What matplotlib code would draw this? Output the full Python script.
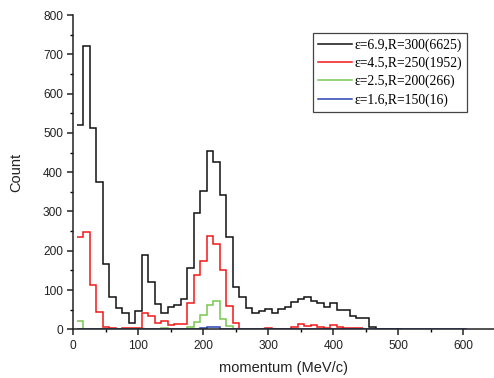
import numpy as np
import matplotlib
matplotlib.use("Agg")
import matplotlib.pyplot as plt
from matplotlib.ticker import MultipleLocator

plt.rcParams['font.family'] = ['Liberation Sans', 'DejaVu Sans']

# bin centres (MeV/c), bin width 10
centers = list(range(10, 610, 10))

black = [521, 720, 513, 375, 167, 83, 55, 42, 17, 47,
         189, 120, 65, 42, 56, 61, 76, 156, 296, 352,
         453, 426, 343, 236, 108, 83, 53, 42, 47, 52,
         41, 52, 57, 69, 78, 83, 73, 68, 57, 68,
         49, 49, 34, 30, 29, 5, 2, 2, 2, 1]
red = [235, 247, 112, 45, 5, 4, 2, 3, 4, 4,
       42, 34, 15, 20, 10, 14, 14, 68, 137, 174,
       237, 218, 150, 59, 17, 2, 2, 2, 2, 4,
       2, 2, 2, 5, 13, 9, 12, 5, 4, 12,
       5, 4, 4, 4]
green = [21, 1, 0, 0, 0, 0, 0, 0, 0, 0,
         0, 2, 2, 3, 1, 1, 2, 7, 18, 37,
         62, 71, 26, 9, 1, 0, 0, 1, 1]
blue = [0] * 19 + [3, 6, 7]

labels = ["ε=6.9,R=300(6625)", "ε=4.5,R=250(1952)",
          "ε=2.5,R=200(266)", "ε=1.6,R=150(16)"]
colors = ["#111111", "#f01818", "#76c84e", "#2a44b0"]

edges = np.array(centers + [centers[-1] + 10]) - 5


def pad(v):
    return np.array(v + [0] * (len(centers) - len(v)), dtype=float)


fig = plt.figure(figsize=(4.94, 3.78), dpi=100)
ax = fig.add_axes([0.1484, 0.1288, 0.8516, 0.8315])

# blue runs along zero across the full range, the others stop where their data stops
for vals, col, lab in zip([black, red, green, blue], colors, labels):
    v = pad(vals) if col == colors[3] else np.array(vals, dtype=float)
    ax.stairs(v, edges[:len(v) + 1], color=col, linewidth=1.1, label=lab, baseline=None)

ax.set_xlim(0, 647)
ax.set_ylim(0, 800)
ax.xaxis.set_major_locator(MultipleLocator(100))
ax.xaxis.set_minor_locator(MultipleLocator(50))
ax.yaxis.set_major_locator(MultipleLocator(100))
ax.yaxis.set_minor_locator(MultipleLocator(50))
ax.tick_params(which='major', direction='out', length=4.5, width=1.1, labelsize=8.6,
               colors='#222222', pad=3)
ax.tick_params(which='minor', direction='out', length=2.5, width=1.0)
for s in ['top', 'right']:
    ax.spines[s].set_visible(False)
for s in ['left', 'bottom']:
    ax.spines[s].set_linewidth(1.1)
    ax.spines[s].set_color('#222222')

ax.set_xlabel("momentum (MeV/c)", fontsize=10.5, color='#222222', labelpad=7)
ax.set_ylabel("Count", fontsize=10.5, color='#222222', labelpad=14)

leg = ax.legend(loc='upper left', bbox_to_anchor=(0.569, 0.944), borderaxespad=0,
                fancybox=False, edgecolor='#444444', framealpha=1,
                prop={'family': ['Liberation Serif', 'DejaVu Serif'], 'size': 9.8},
                handlelength=2.5, handletextpad=0.15, labelspacing=0.36,
                borderpad=0.4)
leg.get_frame().set_linewidth(0.9)

fig.savefig("out.png", dpi=100)
